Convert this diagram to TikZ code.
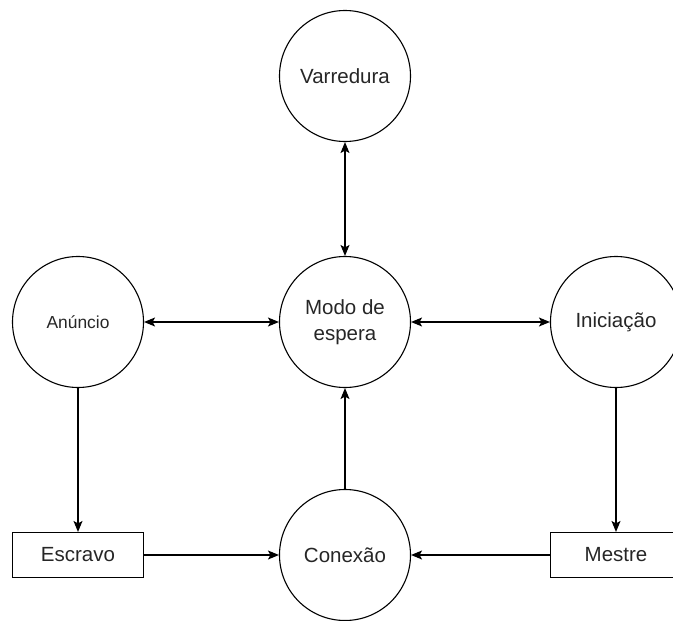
\documentclass[tikz,border=0pt]{standalone}
\usepackage{fontspec}
\setmainfont{Liberation Sans}
\usetikzlibrary{arrows.meta}
\begin{document}
\begin{tikzpicture}[x=1pt,y=-1pt,
  state/.style={draw, line width=1.1pt, circle, minimum size=131pt, inner sep=0pt, align=center, font=\fontsize{20.5}{26.5}\selectfont, text=black!85},
  role/.style={draw, line width=1.1pt, rectangle, minimum width=131pt, minimum height=45pt, inner sep=0pt, font=\fontsize{20.5}{26.5}\selectfont, text=black!85},
  conn/.style={line width=1.1pt, -{Stealth[length=11pt,width=9pt,inset=2.5pt]}},
  bconn/.style={line width=1.1pt, {Stealth[length=11pt,width=9pt,inset=2.5pt]}-{Stealth[length=11pt,width=9pt,inset=2.5pt]}}]
\useasboundingbox (0,0) rectangle (673,621);
\node[state] (var) at (345,76) {Varredura};
\node[state] (modo) at (345,322) {Modo de\\espera};
\node[state, font=\fontsize{17.4}{22}\selectfont] (anu) at (78,322) {Anúncio};
\node[state] (ini) at (616,322) {Iniciação};
\node[state] (con) at (345,555) {Conexão};
\node[role] (esc) at (78,555) {Escravo};
\node[role] (mes) at (616,555) {Mestre};
\draw[bconn] (var) -- (modo);
\draw[bconn] (anu) -- (modo);
\draw[bconn] (modo) -- (ini);
\draw[conn] (anu) -- (esc);
\draw[conn] (ini) -- (mes);
\draw[conn] (esc) -- (con);
\draw[conn] (mes) -- (con);
\draw[conn] (con) -- (modo);
\end{tikzpicture}
\end{document}
